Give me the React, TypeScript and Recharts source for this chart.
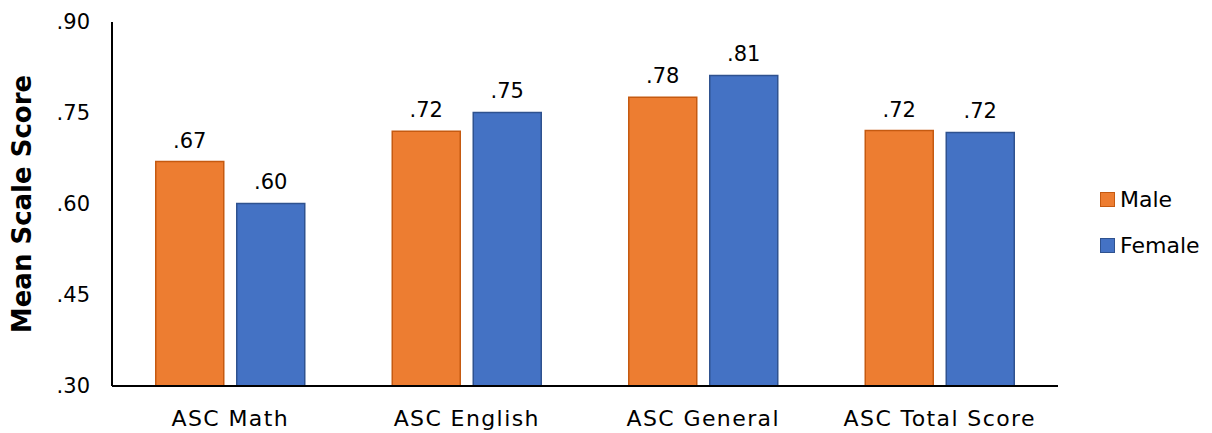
import { BarChart, Bar, XAxis, YAxis, LabelList } from "recharts";

const categories = ["ASC Math", "ASC English", "ASC General", "ASC Total Score"];
const maleScores = [0.67, 0.72, 0.776, 0.721];
const femaleScores = [0.601, 0.751, 0.812, 0.718];
const yTicks = [0.3, 0.45, 0.6, 0.75, 0.9];

const chartData = categories.map((name, i) => ({
  name,
  male: maleScores[i],
  female: femaleScores[i],
}));

// .67 instead of 0.67
const fmt = (v: number) => v.toFixed(2).replace(/^0/, "");

const FONT = "'DejaVu Sans', Verdana, sans-serif";

const series = [
  { key: "male", label: "Male", fill: "#ED7D31", stroke: "#C55A11" },
  { key: "female", label: "Female", fill: "#4472C4", stroke: "#2F528F" },
];

export default function App() {
  return (
    <div style={{ position: "absolute", left: 0, top: 0, width: 1212, height: 433, background: "#fff" }}>
      <BarChart
        width={1212}
        height={433}
        data={chartData}
        margin={{ top: 22, right: 154, left: 52, bottom: 17 }}
        barCategoryGap="18.5%"
        barGap={13}
      >
        <XAxis
          dataKey="name"
          axisLine={{ stroke: "#000", strokeWidth: 2 }}
          tickLine={false}
          tickSize={0}
          tickMargin={24}
          height={30}
          tick={{ fill: "#000", fontSize: 22, fontFamily: FONT, letterSpacing: 1.4 }}
        />
        <YAxis
          domain={[0.3, 0.9]}
          ticks={yTicks}
          tickFormatter={fmt}
          width={60}
          axisLine={{ stroke: "#000", strokeWidth: 2 }}
          tickLine={false}
          tickSize={0}
          tickMargin={22}
          tick={{ fill: "#000", fontSize: 21, fontFamily: FONT }}
          label={{
            value: "Mean Scale Score",
            angle: -90,
            position: "center",
            dx: -60,
            style: { fill: "#000", fontSize: 26, fontWeight: "bold", fontFamily: FONT, textAnchor: "middle" },
          }}
        />
        {series.map((s) => (
          <Bar
            key={s.key}
            dataKey={s.key}
            name={s.label}
            fill={s.fill}
            stroke={s.stroke}
            strokeWidth={1.5}
            isAnimationActive={false}
          >
            <LabelList
              dataKey={s.key}
              position="top"
              offset={14}
              formatter={(v: any) => fmt(Number(v))}
              style={{ fill: "#000", fontSize: 21, fontFamily: FONT }}
            />
          </Bar>
        ))}
      </BarChart>
      {series.map((s, i) => (
        <div
          key={s.key}
          style={{
            position: "absolute",
            left: 1100,
            top: 185 + i * 46,
            height: 28,
            display: "flex",
            alignItems: "center",
            fontFamily: FONT,
            fontSize: 22,
            color: "#000",
          }}
        >
          <span
            style={{
              display: "inline-block",
              width: 13,
              height: 13,
              background: s.fill,
              border: `1px solid ${s.stroke}`,
              marginRight: 5,
            }}
          />
          {s.label}
        </div>
      ))}
    </div>
  );
}
